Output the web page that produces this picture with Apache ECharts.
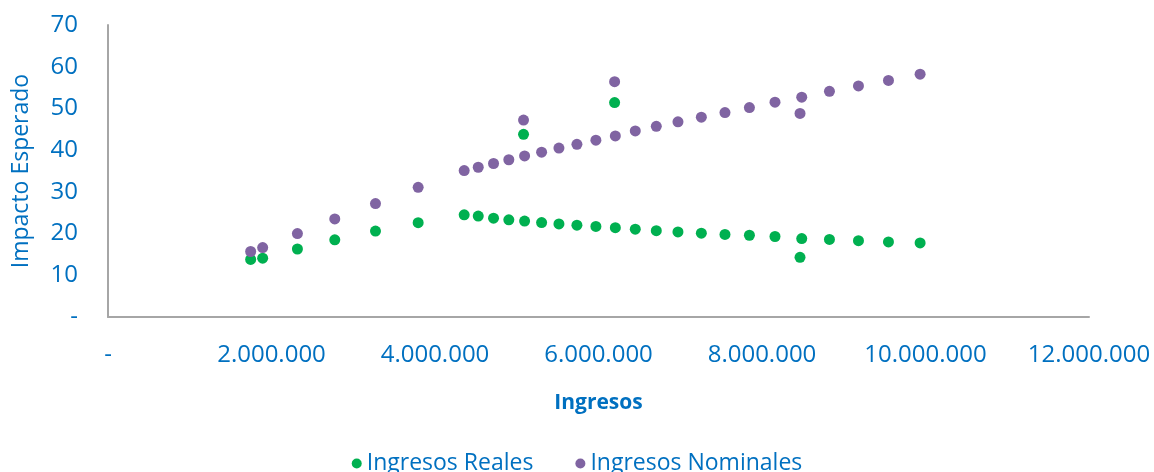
<!DOCTYPE html>
<html>
<head>
<meta charset="utf-8">
<script src="https://cdn.jsdelivr.net/npm/echarts@6/dist/echarts.min.js"></script>
<style>
html,body{margin:0;padding:0;background:#fff;}
#chart{width:1154px;height:472px;}
</style>
</head>
<body>
<div id="chart"></div>
<script>
// Ingresos (x values)
const ingresos = [1745000, 1892000, 2317000, 2774000, 3272000, 3794000, 4357000, 4529000, 4716000, 4903000,
  5083000, 5096000, 5304000, 5516000, 5736000, 5968000, 6197000, 6206000, 6450000, 6707000,
  6972000, 7258000, 7547000, 7846000, 8159000, 8465000, 8486000, 8825000, 9180000, 9547000, 9934000];
// Impacto esperado - Ingresos Reales
const reales = [13.8, 14.1, 16.3, 18.5, 20.6, 22.6, 24.5, 24.2, 23.7, 23.3,
  43.8, 23.0, 22.65, 22.3, 22.0, 21.7, 51.4, 21.4, 21.05, 20.7,
  20.4, 20.1, 19.8, 19.6, 19.3, 14.3, 18.8, 18.6, 18.3, 18.0, 17.75];
// Impacto esperado - Ingresos Nominales
const nominales = [15.7, 16.65, 20.0, 23.5, 27.2, 31.1, 35.1, 35.9, 36.8, 37.7,
  47.2, 38.6, 39.5, 40.5, 41.4, 42.4, 56.4, 43.4, 44.6, 45.7,
  46.8, 47.9, 49.0, 50.2, 51.5, 48.8, 52.7, 54.1, 55.4, 56.7, 58.2];
const seriesNames = ['Ingresos Reales', 'Ingresos Nominales'];
const xTitle = 'Ingresos';
const yTitle = 'Impacto Esperado';

const blue = '#0070C0';
const font = 'Open Sans';

function fmtThousands(v) {
  if (v === 0) return '-';
  return String(Math.round(v)).replace(/\B(?=(\d{3})+(?!\d))/g, '.');
}

const chart = echarts.init(document.getElementById('chart'), null, {renderer: 'canvas'});
chart.setOption({
  animation: false,
  backgroundColor: '#fff',
  grid: {left: 108, right: 65, top: 25, bottom: 155, containLabel: false, outerBoundsMode: 'none'},
  legend: {
    data: seriesNames,
    top: 447,
    left: 'center',
    icon: 'circle',
    itemWidth: 10,
    itemHeight: 10,
    itemGap: 42,
    textStyle: {color: blue, fontFamily: font, fontSize: 23}
  },
  xAxis: {
    type: 'value',
    min: 0, max: 12000000, interval: 2000000,
    name: xTitle,
    nameLocation: 'middle',
    nameGap: 76,
    nameTextStyle: {color: blue, fontFamily: font, fontSize: 21, fontWeight: 'bold'},
    axisLine: {show: true, lineStyle: {color: '#A6A6A6', width: 2}},
    axisTick: {show: false},
    splitLine: {show: false},
    axisLabel: {color: blue, fontFamily: font, fontSize: 24, margin: 26, formatter: fmtThousands}
  },
  yAxis: {
    type: 'value',
    min: 0, max: 70, interval: 10,
    name: yTitle,
    nameLocation: 'middle',
    nameGap: 75,
    nameTextStyle: {color: blue, fontFamily: font, fontSize: 23},
    axisLine: {show: true, lineStyle: {color: '#A6A6A6', width: 2}},
    axisTick: {show: false},
    splitLine: {show: false},
    axisLabel: {color: blue, fontFamily: font, fontSize: 24, margin: 30, formatter: v => v === 0 ? '-' : String(v)}
  },
  series: [
    {
      name: seriesNames[0],
      type: 'scatter',
      symbol: 'circle',
      symbolSize: 11,
      itemStyle: {color: '#00B050', opacity: 1},
      data: ingresos.map((x, i) => [x, reales[i]])
    },
    {
      name: seriesNames[1],
      type: 'scatter',
      symbol: 'circle',
      symbolSize: 11,
      itemStyle: {color: '#8064A2', opacity: 1},
      data: ingresos.map((x, i) => [x, nominales[i]])
    }
  ]
});
</script>
</body>
</html>
